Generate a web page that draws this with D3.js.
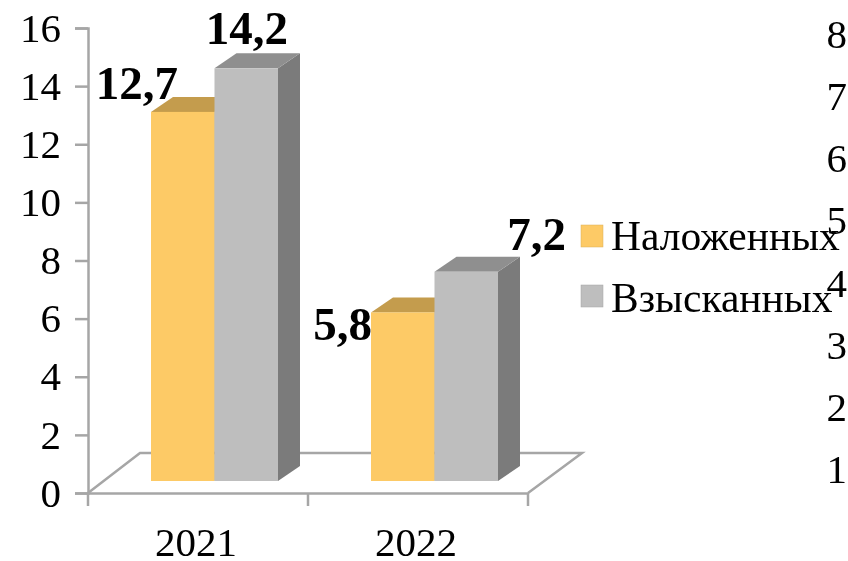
<!DOCTYPE html>
<html>
<head>
<meta charset="utf-8">
<script src="https://cdn.jsdelivr.net/npm/d3@7"></script>
<style>
  html, body { margin: 0; padding: 0; background: #fff; }
  svg { display: block; filter: blur(0.6px); }
  text { font-family: "Liberation Serif", serif; fill: #000; }
</style>
</head>
<body>
<div id="chart"></div>
<script>
const categories = ['2021', '2022']
const seriesNames = ['Наложенных', 'Взысканных']
const imposed = [12.7, 5.8]
const collected = [14.2, 7.2]
const imposedLabels = ['12,7', '5,8']
const collectedLabels = ['14,2', '7,2']
const yTicks = [0, 2, 4, 6, 8, 10, 12, 14, 16]
const strayLabels = ['8', '7', '6', '5', '4', '3', '2', '1']

const width = 848
const height = 561
const gridColor = '#a6a6a6'
const fontSize = 41

const svg = d3.select('#chart')
  .append('svg')
  .attr('width', width)
  .attr('height', height)

const y = d3.scaleLinear().domain([0, 16]).range([493, 28])
const x = d3.scaleBand().domain(categories).range([88, 528])
const xBar = d3.scaleBand().domain([0, 1]).range([0, 127])

// depth of the fake 3d floor and of the bars
const floorDx = 52
const floorDy = -40
const barDx = 22
const barDy = -15
const barShiftX = 63
const barShiftY = -12

// floor
svg.append('path')
  .attr('d', `M${x.range()[0]},${y(0)} l${floorDx},${floorDy} H${x.range()[1] + floorDx + 2} L${x.range()[1]},${y(0)}`)
  .attr('fill', 'none')
  .attr('stroke', gridColor)
  .attr('stroke-width', 2.5)

// axes
const yAxis = svg.append('g')
  .attr('transform', `translate(${x.range()[0]},0)`)
  .call(d3.axisLeft(y).tickValues(yTicks).tickSize(13).tickPadding(14))
const xAxis = svg.append('g')
  .attr('transform', `translate(0,${y(0)})`)
  .call(d3.axisBottom(x).tickSize(0).tickPadding(34))

yAxis.selectAll('text').attr('font-size', fontSize)
xAxis.selectAll('text').attr('font-size', fontSize).attr('dx', -2)
svg.selectAll('.domain').attr('stroke', gridColor).attr('stroke-width', 2.5)
yAxis.selectAll('line').attr('stroke', gridColor).attr('stroke-width', 2.5)

// x ticks sit on band edges
xAxis.selectAll('.edge')
  .data([...categories.map(c => x(c)), x.range()[1]])
  .join('line')
  .attr('class', 'edge')
  .attr('x1', d => d)
  .attr('x2', d => d)
  .attr('y1', 0)
  .attr('y2', 13)
  .attr('stroke', gridColor)
  .attr('stroke-width', 2.5)

const series = [
  { values: imposed, labels: imposedLabels, front: '#fdca66', top: '#c49c4d', side: '#a8843f', legendY: 236, textY: 250 },
  { values: collected, labels: collectedLabels, front: '#bebebe', top: '#8f8f8f', side: '#7b7b7b', legendY: 296, textY: 312 },
]

const bars = svg.append('g')
series.forEach((s, i) => {
  const g = bars.append('g')
  const left = d => x(categories[d]) + barShiftX + xBar(i)
  const idx = categories.map((c, k) => k)

  g.selectAll('.side')
    .data(idx)
    .join('path')
    .attr('class', 'side')
    .attr('fill', s.side)
    .attr('d', d => {
      const r = left(d) + xBar.bandwidth()
      const t = y(s.values[d]) + barShiftY
      const b = y(0) + barShiftY
      return `M${r},${t} l${barDx},${barDy} V${b + barDy} l${-barDx},${-barDy} Z`
    })
  g.selectAll('.top')
    .data(idx)
    .join('path')
    .attr('class', 'top')
    .attr('fill', s.top)
    .attr('d', d => {
      const t = y(s.values[d]) + barShiftY
      return `M${left(d)},${t} l${barDx},${barDy} h${xBar.bandwidth()} l${-barDx},${-barDy} Z`
    })
  g.selectAll('.front')
    .data(idx)
    .join('rect')
    .attr('class', 'front')
    .attr('fill', s.front)
    .attr('x', left)
    .attr('y', d => y(s.values[d]) + barShiftY)
    .attr('width', xBar.bandwidth())
    .attr('height', d => y(0) - y(s.values[d]))
})

// value labels, nudged by hand like in the original
const labelNudgeX = [[90, 64], [200, 258]]
const labelNudgeY = [[-25, 16], [-36, -34]]
const labelLayer = svg.append('g')
series.forEach((s, i) => {
  labelLayer.selectAll(`.val${i}`)
    .data(categories.map((c, k) => k))
    .join('text')
    .attr('class', `val${i}`)
    .attr('font-size', 47)
    .attr('font-weight', 'bold')
    .attr('text-anchor', 'end')
    .attr('x', d => x(categories[d]) + labelNudgeX[i][d])
    .attr('y', d => y(s.values[d]) + labelNudgeY[i][d])
    .text(d => s.labels[d])
})

// legend
const legend = svg.append('g')
legend.selectAll('rect')
  .data(series)
  .join('rect')
  .attr('x', 581)
  .attr('y', d => d.legendY - 11)
  .attr('width', 22)
  .attr('height', 22)
  .attr('fill', d => d.front)
  .attr('stroke', d => d3.color(d.front).darker(0.4))
  .attr('stroke-width', 0.5)
legend.selectAll('text')
  .data(series)
  .join('text')
  .attr('x', 611)
  .attr('y', d => d.textY)
  .attr('font-size', 41.5)
  .text((d, i) => seriesNames[i])

// leftover numbers down the right edge
const stray = d3.scalePoint().domain(strayLabels).range([48, 483])
svg.append('g').selectAll('text')
  .data(strayLabels)
  .join('text')
  .attr('x', 847)
  .attr('y', d => stray(d))
  .attr('text-anchor', 'end')
  .attr('font-size', fontSize)
  .text(d => d)
</script>
</body>
</html>
